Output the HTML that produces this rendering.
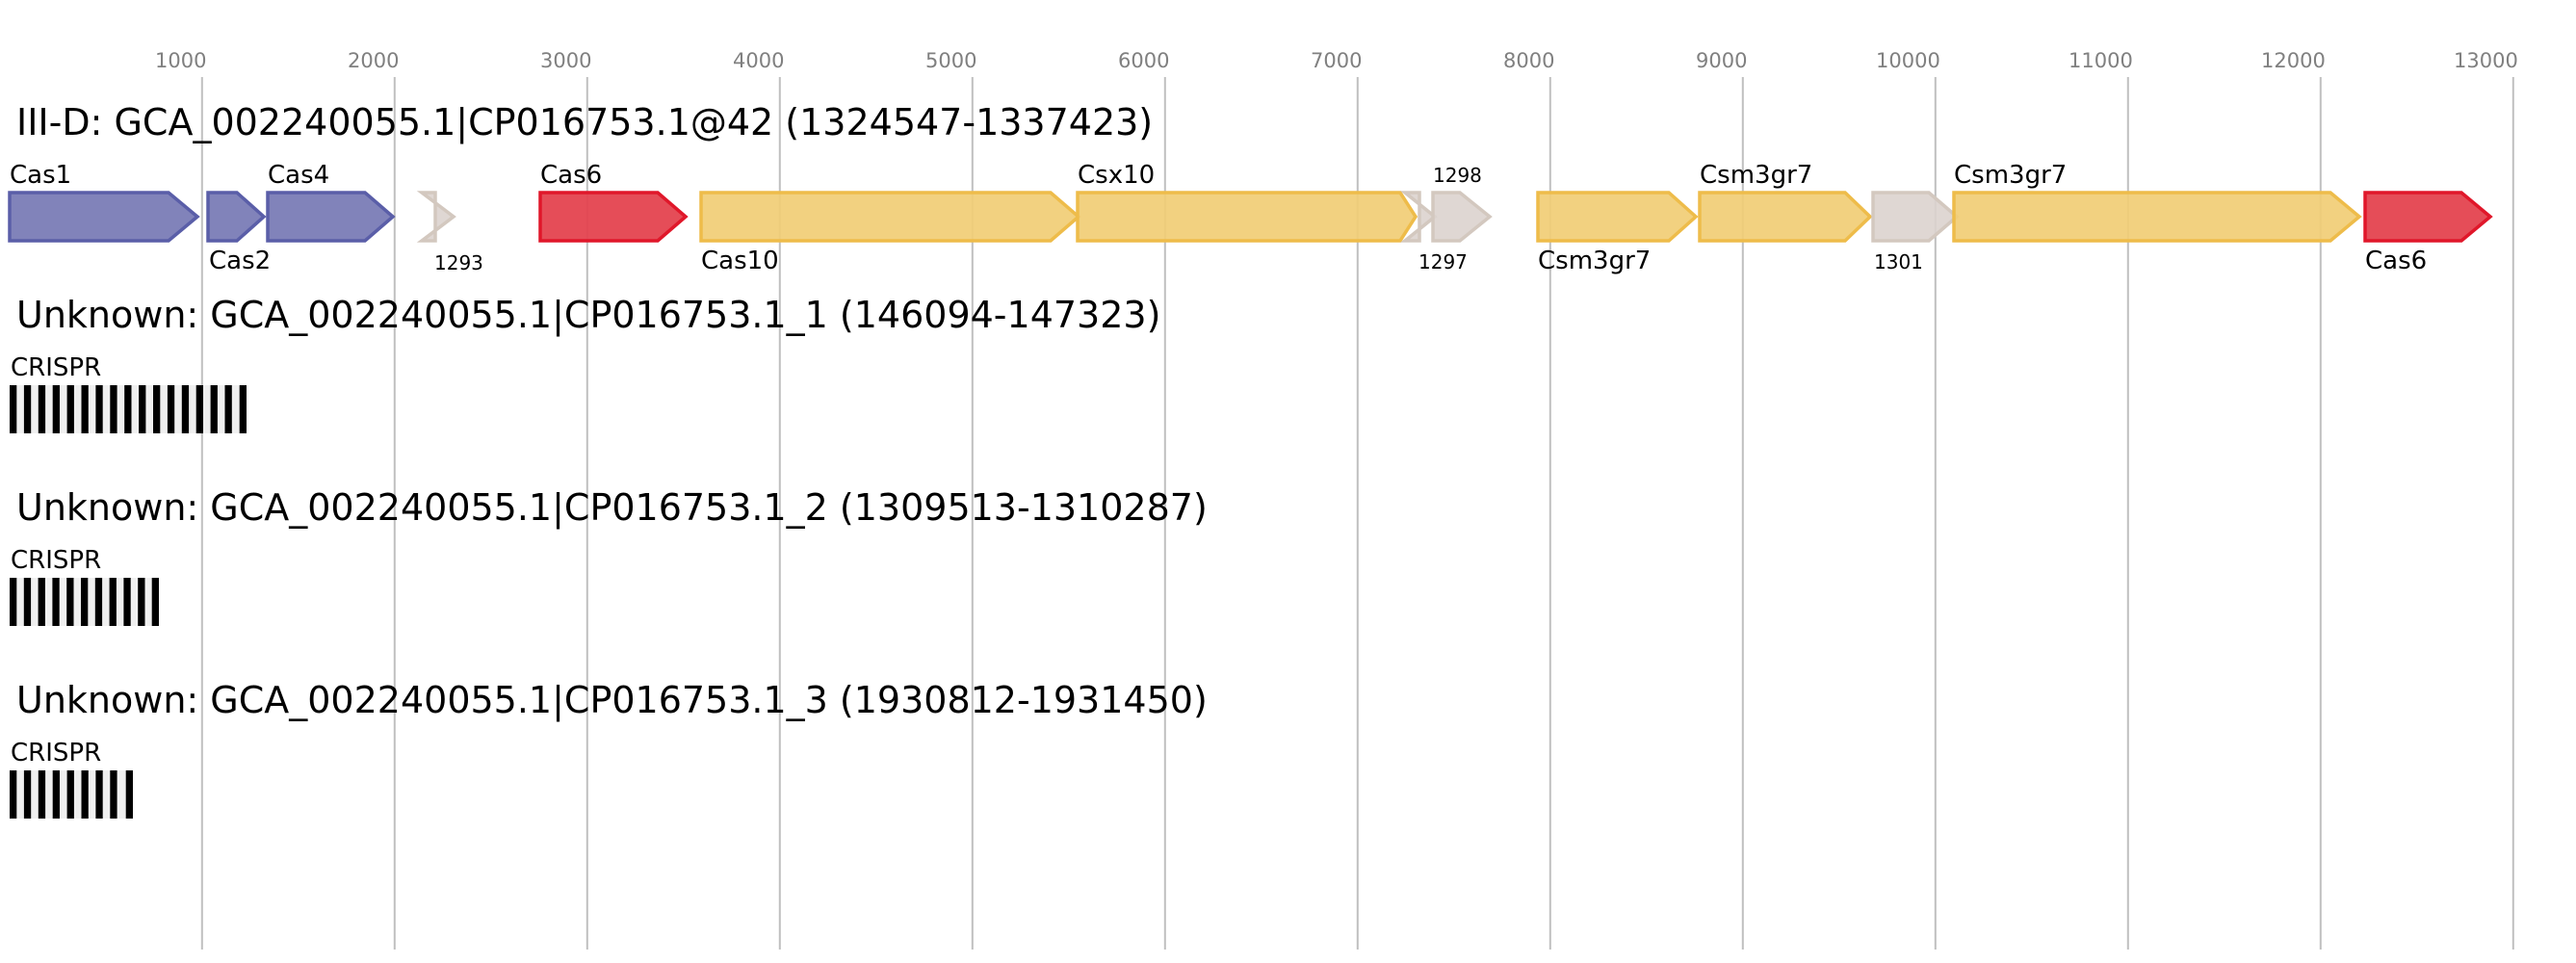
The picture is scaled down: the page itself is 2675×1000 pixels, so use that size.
<!DOCTYPE html>
<html><head><meta charset="utf-8"><style>html,body{margin:0;padding:0;background:#fff}svg{display:block}</style></head>
<body>
<svg width="2675" height="1000" viewBox="0 0 2675 1000" xmlns="http://www.w3.org/2000/svg" font-family="DejaVu Sans, Liberation Sans, sans-serif">
<rect width="2675" height="1000" fill="#fff"/>
<g stroke="#c0c0c0" stroke-width="2">
<line x1="209.8" y1="80" x2="209.8" y2="986"/><line x1="409.8" y1="80" x2="409.8" y2="986"/><line x1="609.8" y1="80" x2="609.8" y2="986"/><line x1="809.8" y1="80" x2="809.8" y2="986"/><line x1="1009.8" y1="80" x2="1009.8" y2="986"/><line x1="1209.8" y1="80" x2="1209.8" y2="986"/><line x1="1409.8" y1="80" x2="1409.8" y2="986"/><line x1="1609.8" y1="80" x2="1609.8" y2="986"/><line x1="1809.8" y1="80" x2="1809.8" y2="986"/><line x1="2009.8" y1="80" x2="2009.8" y2="986"/><line x1="2209.8" y1="80" x2="2209.8" y2="986"/><line x1="2409.8" y1="80" x2="2409.8" y2="986"/><line x1="2609.8" y1="80" x2="2609.8" y2="986"/>
</g>
<g fill="#808080" font-size="21">
<text x="161" y="70">1000</text><text x="361" y="70">2000</text><text x="561" y="70">3000</text><text x="761" y="70">4000</text><text x="961" y="70">5000</text><text x="1161" y="70">6000</text><text x="1361" y="70">7000</text><text x="1561" y="70">8000</text><text x="1761" y="70">9000</text><text x="1948" y="70">10000</text><text x="2148" y="70">11000</text><text x="2348" y="70">12000</text><text x="2548" y="70">13000</text>
</g>
<text x="17" y="140" font-size="38" fill="#000">III-D: GCA_002240055.1|CP016753.1@42 (1324547-1337423)</text>
<g stroke-width="3.5" stroke-linejoin="miter">
<polygon points="10,200 175,200 205,225 175,250 10,250" fill="#7a7cb6" fill-opacity="0.95" stroke="#5a5ea8"/>
<polygon points="216,200 246,200 274,225 246,250 216,250" fill="#7a7cb6" fill-opacity="0.95" stroke="#5a5ea8"/>
<polygon points="278,200 379,200 408,225 379,250 278,250" fill="#7a7cb6" fill-opacity="0.95" stroke="#5a5ea8"/>
<polygon points="452,200 438,200 471,225 438,250 452,250" fill="#dbd3ce" fill-opacity="0.9" stroke="#d3c8bf"/>
<polygon points="561,200 683,200 712,225 683,250 561,250" fill="#e4434f" fill-opacity="0.95" stroke="#e0172a"/>
<polygon points="728,200 1091,200 1120,225 1091,250 728,250" fill="#f1cd75" fill-opacity="0.92" stroke="#eebc4a"/>
<polygon points="1119,200 1454,200 1470,225 1454,250 1119,250" fill="#f1cd75" fill-opacity="0.92" stroke="#eebc4a"/>
<polygon points="1474,200 1459,200 1490,225 1459,250 1474,250" fill="#dbd3ce" fill-opacity="0.9" stroke="#d3c8bf"/>
<polygon points="1488,200 1516,200 1547,225 1516,250 1488,250" fill="#dbd3ce" fill-opacity="0.9" stroke="#d3c8bf"/>
<polygon points="1597,200 1733,200 1761,225 1733,250 1597,250" fill="#f1cd75" fill-opacity="0.92" stroke="#eebc4a"/>
<polygon points="1765,200 1916,200 1942,225 1916,250 1765,250" fill="#f1cd75" fill-opacity="0.92" stroke="#eebc4a"/>
<polygon points="1945,200 2003,200 2032,225 2003,250 1945,250" fill="#dbd3ce" fill-opacity="0.9" stroke="#d3c8bf"/>
<polygon points="2029,200 2420,200 2450,225 2420,250 2029,250" fill="#f1cd75" fill-opacity="0.92" stroke="#eebc4a"/>
<polygon points="2456,200 2556,200 2586,225 2556,250 2456,250" fill="#e4434f" fill-opacity="0.95" stroke="#e0172a"/>
</g>
<g font-size="26" fill="#000">
<text x="10" y="190">Cas1</text><text x="217" y="279">Cas2</text><text x="278" y="190">Cas4</text><text x="561" y="190">Cas6</text><text x="728" y="279">Cas10</text><text x="1119" y="190">Csx10</text><text x="1597" y="279">Csm3gr7</text><text x="1765" y="190">Csm3gr7</text><text x="2029" y="190">Csm3gr7</text><text x="2456" y="279">Cas6</text>
</g>
<g font-size="20" fill="#000">
<text x="451" y="280">1293</text><text x="1473" y="279">1297</text><text x="1488" y="189">1298</text><text x="1946" y="279">1301</text>
</g>
<g font-size="38" fill="#000">
<text x="17" y="340">Unknown: GCA_002240055.1|CP016753.1_1 (146094-147323)</text>
<text x="17" y="540">Unknown: GCA_002240055.1|CP016753.1_2 (1309513-1310287)</text>
<text x="17" y="740">Unknown: GCA_002240055.1|CP016753.1_3 (1930812-1931450)</text>
</g>
<g font-size="26" fill="#000">
<text x="11" y="390">CRISPR</text><text x="11" y="590">CRISPR</text><text x="11" y="790">CRISPR</text>
</g>
<rect x="10" y="400" width="246" height="50" fill="#f0f0f0"/>
<rect x="10" y="600" width="155" height="50" fill="#f0f0f0"/>
<rect x="10" y="800" width="128" height="50" fill="#f0f0f0"/>
<g fill="#000">
<rect x="10" y="400" width="7.3" height="50"/><rect x="24.9" y="400" width="7.3" height="50"/><rect x="39.8" y="400" width="7.3" height="50"/><rect x="54.7" y="400" width="7.3" height="50"/><rect x="69.6" y="400" width="7.3" height="50"/><rect x="84.5" y="400" width="7.3" height="50"/><rect x="99.4" y="400" width="7.3" height="50"/><rect x="114.3" y="400" width="7.3" height="50"/><rect x="129.2" y="400" width="7.3" height="50"/><rect x="144.1" y="400" width="7.3" height="50"/><rect x="159" y="400" width="7.3" height="50"/><rect x="173.9" y="400" width="7.3" height="50"/><rect x="188.8" y="400" width="7.3" height="50"/><rect x="203.7" y="400" width="7.3" height="50"/><rect x="218.6" y="400" width="7.3" height="50"/><rect x="233.5" y="400" width="7.3" height="50"/><rect x="248.7" y="400" width="7.3" height="50"/>
<rect x="10" y="600" width="7.3" height="50"/><rect x="24.8" y="600" width="7.3" height="50"/><rect x="39.6" y="600" width="7.3" height="50"/><rect x="54.4" y="600" width="7.3" height="50"/><rect x="69.2" y="600" width="7.3" height="50"/><rect x="84" y="600" width="7.3" height="50"/><rect x="98.8" y="600" width="7.3" height="50"/><rect x="113.6" y="600" width="7.3" height="50"/><rect x="128.4" y="600" width="7.3" height="50"/><rect x="143.2" y="600" width="7.3" height="50"/><rect x="157.7" y="600" width="7.3" height="50"/>
<rect x="10" y="800" width="7.3" height="50"/><rect x="24.9" y="800" width="7.3" height="50"/><rect x="39.8" y="800" width="7.3" height="50"/><rect x="54.7" y="800" width="7.3" height="50"/><rect x="69.6" y="800" width="7.3" height="50"/><rect x="84.5" y="800" width="7.3" height="50"/><rect x="99.4" y="800" width="7.3" height="50"/><rect x="114.3" y="800" width="7.3" height="50"/><rect x="130.7" y="800" width="7.3" height="50"/>
</g>
</svg>
</body></html>
